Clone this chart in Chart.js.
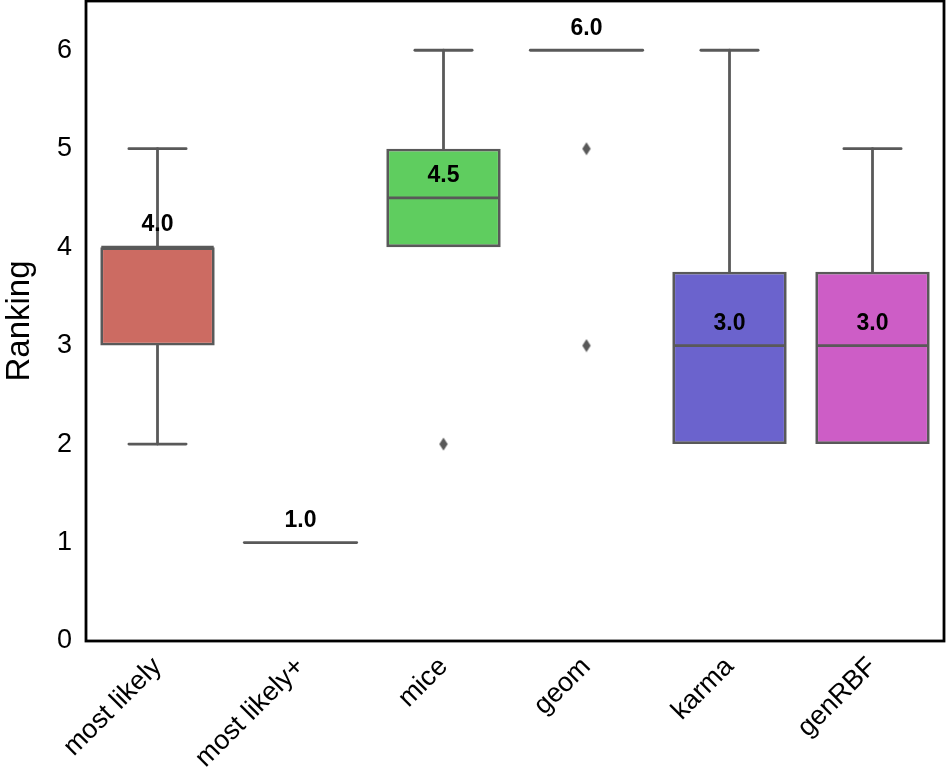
<!DOCTYPE html>
<html>
<head>
<meta charset="utf-8">
<script src="https://cdn.jsdelivr.net/npm/chart.js@4.4.0/dist/chart.umd.min.js"></script>
<style>
  html, body { margin: 0; padding: 0; background: #fff; }
  #wrap { width: 946px; height: 767px; }
</style>
</head>
<body>
<div id="wrap"><canvas id="c" width="946" height="767"></canvas></div>
<script>
const categories = ['most likely', 'most likely+', 'mice', 'geom', 'karma', 'genRBF'];
const whiskerLow  = [2, 1, 4,   6, 2,    2];
const q1          = [3, 1, 4,   6, 2,    2];
const median      = [4, 1, 4.5, 6, 3,    3];
const q3          = [4, 1, 5,   6, 3.75, 3.75];
const whiskerHigh = [5, 1, 6,   6, 6,    5];
const outlierCats = ['mice', 'geom', 'geom'];
const outlierVals = [2, 5, 3];
const boxColors = ['#cc6b62', '#ccc562', '#5fcd5f', '#62c5cc', '#6b63cd', '#cd5dc6'];
const yTicks = [0, 1, 2, 3, 4, 5, 6];

const LINE = '#595959';
const LW = 2.8;
const FONT = "'Liberation Sans', Arial, Helvetica, sans-serif";

// diamond marker
const dia = document.createElement('canvas');
dia.width = 10; dia.height = 14;
(function () {
  const g = dia.getContext('2d');
  g.fillStyle = LINE;
  g.beginPath();
  g.moveTo(5, 0.5); g.lineTo(9.2, 7); g.lineTo(5, 13.5); g.lineTo(0.8, 7);
  g.closePath(); g.fill();
})();

const boxData = categories.map((c, i) => (q1[i] === q3[i] ? null : [q1[i], q3[i]]));

const boxPlugin = {
  id: 'boxParts',
  beforeDatasetsDraw(chart) {
    const ctx = chart.ctx;
    const x = chart.scales.x, y = chart.scales.y;
    const bw = x.getPixelForValue(1) - x.getPixelForValue(0);
    const boxW = bw * 0.8;
    ctx.save();
    ctx.strokeStyle = LINE;
    ctx.lineWidth = LW;
    ctx.lineCap = 'round';
    categories.forEach((c, i) => {
      const cx = x.getPixelForValue(i);
      const segs = [[q3[i], whiskerHigh[i]], [whiskerLow[i], q1[i]]];
      segs.forEach(([a, b]) => {
        if (a === b) return;
        ctx.beginPath();
        ctx.moveTo(cx, y.getPixelForValue(a));
        ctx.lineTo(cx, y.getPixelForValue(b));
        ctx.stroke();
        const py = y.getPixelForValue(a === q3[i] ? b : a);
        ctx.beginPath();
        ctx.moveTo(cx - boxW / 4, py);
        ctx.lineTo(cx + boxW / 4, py);
        ctx.stroke();
      });
    });
    ctx.restore();
  },
  afterDatasetsDraw(chart) {
    const ctx = chart.ctx;
    const x = chart.scales.x, y = chart.scales.y;
    const bw = x.getPixelForValue(1) - x.getPixelForValue(0);
    const boxW = bw * 0.8;
    ctx.save();
    ctx.strokeStyle = LINE;
    ctx.lineWidth = LW;
    categories.forEach((c, i) => {
      const cx = x.getPixelForValue(i);
      const py = y.getPixelForValue(median[i]);
      ctx.lineCap = q1[i] === q3[i] ? 'round' : 'butt';
      ctx.beginPath();
      ctx.moveTo(cx - boxW / 2 + 1, py);
      ctx.lineTo(cx + boxW / 2 - 1, py);
      ctx.stroke();
      ctx.fillStyle = '#000';
      ctx.font = 'bold 23px ' + FONT;
      ctx.textAlign = 'center';
      ctx.textBaseline = 'middle';
      ctx.fillText(median[i].toFixed(1), cx, py - 22);
    });
    // frame
    const a = chart.chartArea;
    ctx.strokeStyle = '#000';
    ctx.lineWidth = 2.8;
    ctx.strokeRect(a.left, a.top, a.right - a.left, a.bottom - a.top);
    ctx.restore();
  }
};

new Chart(document.getElementById('c'), {
  data: {
    labels: categories,
    datasets: [
      {
        type: 'bar',
        data: boxData,
        backgroundColor: boxColors,
        borderColor: LINE,
        borderWidth: LW,
        borderSkipped: false,
        barPercentage: 0.8,
        categoryPercentage: 1.0,
        grouped: false,
        order: 1
      },
      {
        type: 'scatter',
        data: outlierCats.map((c, i) => ({ x: c, y: outlierVals[i] })),
        pointStyle: dia,
        order: 0
      }
    ]
  },
  options: {
    responsive: false,
    animation: false,
    devicePixelRatio: 1,
    layout: { autoPadding: false, padding: { top: 1, right: 2, left: 0, bottom: 0 } },
    plugins: { legend: { display: false }, tooltip: { enabled: false } },
    scales: {
      x: {
        type: 'category',
        offset: true,
        grid: { display: false, drawTicks: false },
        border: { display: false },
        ticks: {
          color: '#000',
          font: { family: FONT, size: 27 },
          minRotation: 45,
          maxRotation: 45,
          padding: 10
        },
        afterFit(s) { s.height = 126; s.paddingLeft = 0; s.paddingRight = 0; }
      },
      y: {
        type: 'linear',
        min: 0,
        max: 6.5,
        grid: { display: false, drawTicks: false },
        border: { display: false },
        afterBuildTicks(s) { s.ticks = yTicks.map(v => ({ value: v })); },
        ticks: {
          color: '#000',
          font: { family: FONT, size: 27 },
          padding: 14
        },
        title: {
          display: true,
          text: 'Ranking',
          color: '#000',
          font: { family: FONT, size: 33 },
          padding: { top: 0, bottom: 0 }
        },
        afterFit(s) { s.width = 86; s.paddingTop = 0; s.paddingBottom = 0; }
      }
    }
  },
  plugins: [boxPlugin]
});
</script>
</body>
</html>
